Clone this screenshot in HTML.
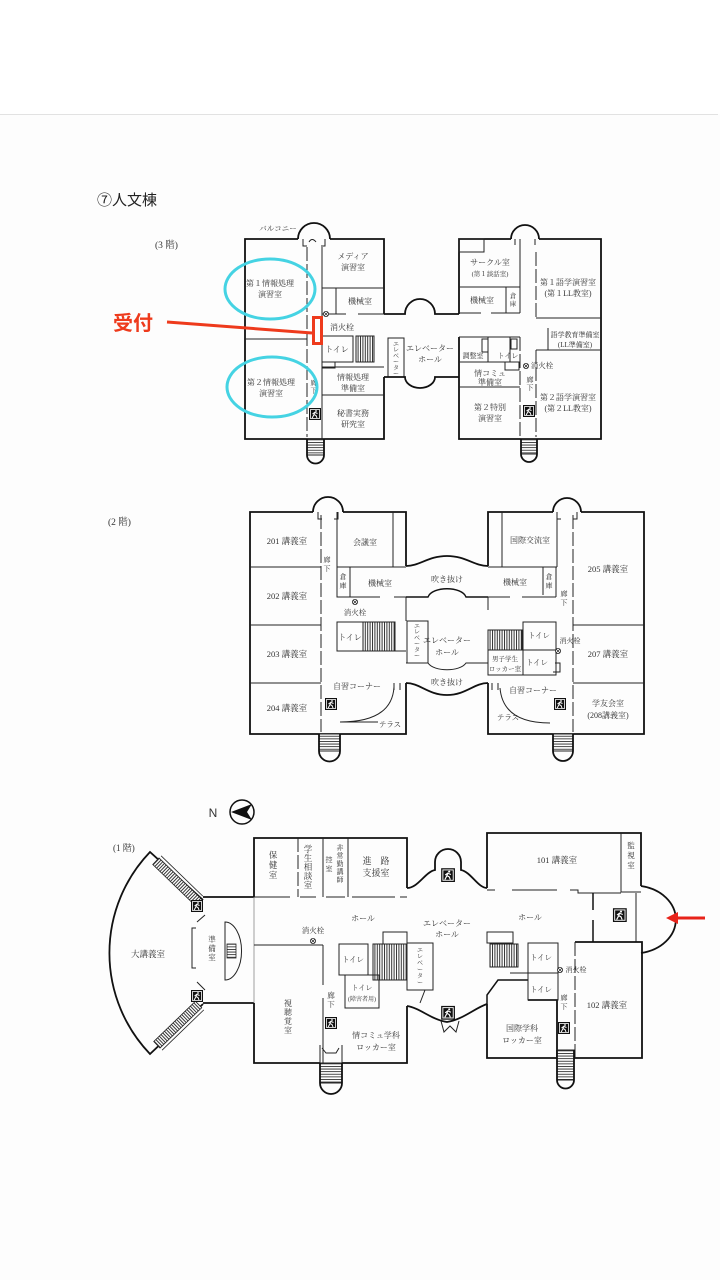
<!DOCTYPE html>
<html><head><meta charset="utf-8">
<style>
html,body{margin:0;padding:0;background:#fff;}
svg{display:block}
.w{fill:none;stroke:#111;stroke-width:1.8}
.t{fill:none;stroke:#222;stroke-width:1}
.d{fill:none;stroke:#222;stroke-width:1;stroke-dasharray:14 3}
text{font-family:"Liberation Serif","Noto Serif CJK JP","Noto Serif CJK SC",serif;fill:#333;font-size:8px;text-anchor:middle}
.s{font-family:"Liberation Sans","Noto Sans CJK JP",sans-serif}
</style></head><body>
<svg width="720" height="1280" viewBox="0 0 720 1280" xmlns="http://www.w3.org/2000/svg">
<defs>
<pattern id="vs" width="2.4" height="4" patternUnits="userSpaceOnUse"><rect width="2.4" height="4" fill="#fff"/><rect width="1" height="4" fill="#333"/></pattern>
<pattern id="hs" width="4" height="2.6" patternUnits="userSpaceOnUse"><rect width="4" height="2.6" fill="#fff"/><rect width="4" height="0.9" fill="#333"/></pattern>
<g id="ex"><rect width="12" height="12" fill="#111"/><rect x="1.5" y="1.5" width="9" height="9" fill="none" stroke="#fff" stroke-width="0.8"/><path d="M3.2,10 L5,6.5 L7,7.5 L8,10 M5,6.5 L6,3.8 M6,4.5 L8.5,5.5 M5.5,4.5 L3.5,6" stroke="#fff" stroke-width="1" fill="none"/><circle cx="7" cy="3" r="0.9" fill="#fff"/></g>
<g id="fh"><circle r="2.6" fill="#fff" stroke="#222" stroke-width="0.8"/><path d="M-1.8,-1.8 L1.8,1.8 M-1.8,1.8 L1.8,-1.8" stroke="#222" stroke-width="0.7"/></g>
</defs>
<rect x="0" y="0" width="720" height="1280" fill="#fdfdfd"/>
<rect x="0" y="0" width="720" height="114" fill="#fff"/>
<line x1="0" y1="114.5" x2="718" y2="114.5" stroke="#e2e2e2" stroke-width="1"/>

<text class="s" x="97" y="205" style="font-size:15px;text-anchor:start;fill:#222">⑦人文棟</text>

<!-- ================= 3F ================= -->
<text x="155" y="248" style="font-size:9.5px;text-anchor:start">(3 階)</text>
<text x="278" y="231" style="font-size:7.5px">バルコニー</text>
<path class="w" d="M298,239 H245 V439 H384 V377 M384,314 V239 H330"/>
<path class="w" d="M298,239 A16,16 0 0 1 330,239"/>
<path class="t" d="M303,239 V246 H307 M325,239 V246 H321 M309,242 Q312,237 316,242"/>
<line class="d" x1="307" y1="247" x2="307" y2="437"/>
<path class="t" d="M322,247 V336 M322,367 V439 M245,339 H307 M322,288 H384 M336,288 V314 M322,314 H346 M358,314 H384 M322,367 H384 M322,395 H384"/>
<rect class="t" x="322" y="336" width="31" height="26"/>
<rect x="356" y="336" width="18" height="26" fill="url(#vs)" stroke="#222" stroke-width="1"/>
<rect class="t" x="322" y="362" width="13" height="6"/>
<rect class="t" x="388" y="338" width="16" height="39"/>
<use href="#ex" x="309" y="408"/>
<rect x="307" y="439" width="17" height="16" fill="url(#hs)" stroke="#222" stroke-width="1"/>
<path class="w" d="M307,439 V455 A8.5,8.5 0 0 0 324,455 V439"/>
<use href="#fh" x="326" y="314"/>
<!-- connector -->
<path class="w" d="M384,314 H405 A15,15 0 0 1 435,314 H459"/>
<path class="w" d="M384,377 H405 A15,11 0 0 0 435,377 H459"/>
<!-- right wing -->
<path class="w" d="M459,314 V239 H511 M539,239 H601 V439 H459 V337"/>
<path class="w" d="M511,239 A14,14 0 0 1 539,239"/>
<path class="t" d="M515,239 V245 M535,239 V245"/>
<rect class="t" x="459" y="239" width="25" height="13"/>
<path class="t" d="M520,239 V313 M459,287 H520 M459,313 H481 M491,313 H520 M506,287 V313 M536,318 H601 M548,328 V350 M536,350 H601 M459,337 H520 M459,362 H505 M459,387 H520 M488,337 V362 M510,337 V362"/>
<line class="d" x1="536" y1="252" x2="536" y2="318"/>
<line class="d" x1="536" y1="350" x2="536" y2="437"/>
<line class="d" x1="520" y1="337" x2="520" y2="437"/>
<rect class="t" x="482" y="339" width="6" height="13"/>
<rect class="t" x="511" y="339" width="6" height="10"/>
<rect class="t" x="505" y="362" width="14" height="8"/>
<use href="#ex" x="523" y="405"/>
<rect x="521" y="439" width="16" height="15" fill="url(#hs)" stroke="#222" stroke-width="1"/>
<path class="w" d="M521,439 V454 A8,8 0 0 0 537,454 V439"/>
<use href="#fh" x="526" y="366"/>
<!-- labels 3F -->
<text x="270" y="286">第１情報処理</text><text x="270" y="297">演習室</text>
<text x="271" y="385">第２情報処理</text><text x="271" y="396">演習室</text>
<text x="353" y="259">メディア</text><text x="353" y="270">演習室</text>
<text x="360" y="304">機械室</text>
<text x="342" y="330">消火栓</text>
<text x="337" y="352">トイレ</text>
<text x="353" y="380">情報処理</text><text x="353" y="391">準備室</text>
<text x="353" y="416">秘書実務</text><text x="353" y="427">研究室</text>
<text x="314" y="385" style="font-size:7px">廊<tspan x="314" dy="8">下</tspan></text>
<text x="396" y="346" style="font-size:6px">エ<tspan x="396" dy="6">レ</tspan><tspan x="396" dy="6">ベ</tspan><tspan x="396" dy="6">ー</tspan><tspan x="396" dy="6">タ</tspan><tspan x="396" dy="6">ー</tspan></text>
<text x="430" y="351">エレベーター</text><text x="430" y="362">ホール</text>
<text x="490" y="265">サークル室</text><text x="490" y="276" style="font-size:6.5px">(第１談話室)</text>
<text x="482" y="303">機械室</text>
<text x="513" y="298" style="font-size:6.5px">倉<tspan x="513" dy="8">庫</tspan></text>
<text x="568" y="285">第１語学演習室</text><text x="568" y="296">(第１LL教室)</text>
<text x="575" y="337" style="font-size:7px">語学教育準備室</text><text x="575" y="347" style="font-size:7px">(LL準備室)</text>
<text x="473" y="358" style="font-size:7px">調整室</text><text x="508" y="358" style="font-size:7px">トイレ</text>
<text x="490" y="376">情コミュ</text><text x="490" y="385">準備室</text>
<text x="490" y="410">第２特別</text><text x="490" y="421">演習室</text>
<text x="542" y="368" style="font-size:7.5px">消火栓</text>
<text x="530" y="382" style="font-size:7px">廊<tspan x="530" dy="8">下</tspan></text>
<text x="568" y="400">第２語学演習室</text><text x="568" y="411">(第２LL教室)</text>
<!-- highlights -->
<ellipse cx="270" cy="289" rx="45" ry="30" fill="none" stroke="#45d3e3" stroke-width="3"/>
<ellipse cx="272" cy="387" rx="45" ry="30" fill="none" stroke="#45d3e3" stroke-width="3"/>
<text class="s" x="113" y="330" style="font-size:20px;font-weight:bold;fill:#ee3a1c;text-anchor:start">受付</text>
<line x1="167" y1="322" x2="312" y2="333" stroke="#ee3a1c" stroke-width="3"/>
<rect x="313.5" y="317.5" width="8" height="26" fill="none" stroke="#ee3a1c" stroke-width="3"/>

<!-- ================= 2F ================= -->
<text x="108" y="525" style="font-size:9.5px;text-anchor:start">(2 階)</text>
<path class="w" d="M313,512 H250 V734 H406 V683 M406,566 V512 H343"/>
<path class="t" d="M406,597 V621"/>
<path class="w" d="M313,512 A15,15 0 0 1 343,512"/>
<path class="t" d="M318,512 V519 H322 M338,512 V519 H334"/>
<line class="d" x1="321" y1="515" x2="321" y2="732"/>
<path class="t" d="M250,567 H321 M250,625 H321 M250,683 H321 M337,512 V567 M393,512 V567 M337,567 H406 M350,567 V597 M337,597 H380 M394,597 H406 M337,651 H406 M340,722 H378"/>
<rect class="t" x="337" y="567" width="13" height="30"/>
<use href="#fh" x="355" y="602"/>
<rect class="t" x="337" y="622" width="26" height="29"/>
<rect x="363" y="622" width="32" height="29" fill="url(#vs)" stroke="#222" stroke-width="1"/>
<rect class="t" x="407" y="621" width="21" height="42"/>
<path class="w" d="M406,566 C420,566 428,556 447,556 C466,556 474,566 488,566"/>
<path style="fill:none;stroke:#111;stroke-width:1.4" d="M406,597 H428 C432,586 462,586 466,597 H488"/>
<path class="t" d="M406,663 H428 C434,672 460,672 466,663 H488"/>
<path class="w" d="M406,683 C420,683 428,695 447,695 C466,695 474,683 488,683"/>
<path class="t" d="M394,687 Q392,722 340,722 M394,683 V690 M400,683 V690"/>
<use href="#ex" x="325" y="698"/>
<rect x="319" y="734" width="21" height="17" fill="url(#hs)" stroke="#222" stroke-width="1"/>
<path class="w" d="M319,734 V751 A10.5,10.5 0 0 0 340,751 V734"/>
<!-- right wing 2F -->
<path class="w" d="M553,512 H488 V566 M488,683 V734 H644 V512 H581"/>
<path class="t" d="M488,597 V610"/>
<path class="w" d="M553,512 A14,14 0 0 1 581,512"/>
<path class="t" d="M557,512 V519 H561 M577,512 V519 H573"/>
<path class="t" d="M502,512 V567 M557,512 V567 M488,567 H557 M543,567 V595 M556,567 V597 M488,597 H510 M522,597 H556 M573,625 H644 M573,683 H644 M555,663 H560 V672 H553"/>
<line class="d" x1="573" y1="515" x2="573" y2="732"/>
<rect x="488" y="630" width="34" height="20" fill="url(#vs)" stroke="#222" stroke-width="1"/>
<rect class="t" x="488" y="650" width="35" height="25"/>
<rect class="t" x="523" y="622" width="33" height="28"/>
<rect class="t" x="523" y="650" width="33" height="25"/>
<path class="t" d="M500,688 Q503,723 550,723 M492,683 V690 M498,683 V690"/>
<use href="#fh" x="558" y="651"/>
<use href="#ex" x="554" y="698"/>
<rect x="553" y="734" width="20" height="17" fill="url(#hs)" stroke="#222" stroke-width="1"/>
<path class="w" d="M553,734 V751 A10,10 0 0 0 573,751 V734"/>
<!-- labels 2F -->
<text x="287" y="544" style="font-size:8.5px">201 講義室</text>
<text x="287" y="599" style="font-size:8.5px">202 講義室</text>
<text x="287" y="657" style="font-size:8.5px">203 講義室</text>
<text x="287" y="711" style="font-size:8.5px">204 講義室</text>
<text x="365" y="545">会議室</text>
<text x="380" y="586">機械室</text>
<text x="343" y="579" style="font-size:7px">倉<tspan x="343" dy="9">庫</tspan></text>
<text x="327" y="562" style="font-size:7px">廊<tspan x="327" dy="9">下</tspan></text>
<text x="355" y="615" style="font-size:7.5px">消火栓</text>
<text x="350" y="640">トイレ</text>
<text x="417" y="628" style="font-size:6px">エ<tspan x="417" dy="6">レ</tspan><tspan x="417" dy="6">ベ</tspan><tspan x="417" dy="6">ー</tspan><tspan x="417" dy="6">タ</tspan><tspan x="417" dy="6">ー</tspan></text>
<text x="447" y="643">エレベーター</text><text x="447" y="655">ホール</text>
<text x="447" y="582">吹き抜け</text>
<text x="447" y="685">吹き抜け</text>
<text x="357" y="689">自習コーナー</text>
<text x="390" y="727" style="font-size:7.5px">テラス</text>
<text x="530" y="543">国際交流室</text>
<text x="515" y="585">機械室</text>
<text x="549" y="579" style="font-size:7px">倉<tspan x="549" dy="9">庫</tspan></text>
<text x="564" y="596" style="font-size:7px">廊<tspan x="564" dy="9">下</tspan></text>
<text x="608" y="572" style="font-size:8.5px">205 講義室</text>
<text x="608" y="657" style="font-size:8.5px">207 講義室</text>
<text x="608" y="706">学友会室</text><text x="608" y="718">(208講義室)</text>
<text x="505" y="661" style="font-size:6.5px">男子学生</text><text x="505" y="671" style="font-size:6.5px">ロッカー室</text>
<text x="539" y="638" style="font-size:7.5px">トイレ</text><text x="537" y="665" style="font-size:7.5px">トイレ</text>
<text x="570" y="643" style="font-size:7px">消火栓</text>
<text x="533" y="693">自習コーナー</text>
<text x="508" y="720" style="font-size:7.5px">テラス</text>

<!-- ================= 1F ================= -->
<text class="s" x="213" y="817" style="font-size:12px">N</text>
<circle cx="242" cy="812" r="12" fill="none" stroke="#111" stroke-width="1.5"/>
<path d="M231,812 L252,804 L247,812 L252,820 Z" fill="#111"/>
<text x="113" y="851" style="font-size:9px;text-anchor:start">(1 階)</text>
<!-- auditorium -->
<path class="w" d="M203,900 L150,852 A146,146 0 0 0 150,1054 L203,1004"/>
<path class="w" d="M203,897 H254 M203,1003 H254"/>
<g transform="translate(159,858) rotate(44)"><rect x="0" y="0" width="58" height="9" fill="url(#vs)" stroke="#222" stroke-width="0.8"/><line x1="0" y1="-3" x2="58" y2="-3" stroke="#222" stroke-width="0.8"/></g>
<g transform="translate(160,1048) rotate(-44)"><rect x="0" y="-9" width="58" height="9" fill="url(#vs)" stroke="#222" stroke-width="0.8"/><line x1="0" y1="3" x2="58" y2="3" stroke="#222" stroke-width="0.8"/></g>
<use href="#ex" x="191" y="900"/>
<use href="#ex" x="191" y="990"/>
<path class="t" d="M196,928 H192 V968 H196 M197,922 L205,915 M197,982 L205,990"/>
<path class="t" d="M225,922 A16,28 0 0 1 225,980 Z"/>
<rect x="227" y="944" width="9" height="14" fill="url(#hs)" stroke="#222" stroke-width="0.8"/>
<!-- main left block -->
<path class="w" d="M254,897 V838 H407 V888"/>
<path class="w" d="M254,1003 V1063 H320 M342,1063 H407 V1006"/>
<line x1="254" y1="897" x2="254" y2="1003" stroke="#888" stroke-width="0.8"/>
<path class="t" d="M254,897 H290 M300,897 H316 M326,897 H345 M352,897 H395 M400,897 H407 M323,838 V897 M348,838 V897 M254,945 H323 M323,945 V985 M323,998 V1063"/>
<line class="d" x1="298" y1="838" x2="298" y2="897"/>
<use href="#fh" x="313" y="941"/>
<rect class="t" x="339" y="944" width="29" height="31"/>
<rect x="373" y="944" width="34" height="36" fill="url(#vs)" stroke="#222" stroke-width="1"/>
<rect class="t" x="383" y="932" width="24" height="12"/>
<rect class="t" x="407" y="943" width="26" height="47"/>
<rect class="t" x="345" y="975" width="34" height="33"/>
<path class="t" d="M425,990 L420,1003"/>
<use href="#ex" x="325" y="1017"/>
<path class="t" d="M320,1045 V1063 M342,1045 V1063 M322,1048 L326,1053 H336 L339,1048"/>
<rect x="320" y="1063" width="22" height="20" fill="url(#hs)" stroke="#222" stroke-width="1"/>
<path class="w" d="M320,1063 V1083 A11,11 0 0 0 342,1083 V1063"/>
<!-- exits / connectors -->
<path class="w" d="M407,888 C418,888 425,872 435,870 V862 A13,13 0 0 1 461,862 V870 C471,872 478,888 487,888"/>
<use href="#ex" x="441" y="868" transform="translate(-66,-130) scale(1.15)"/>
<path class="w" d="M407,1006 C420,1008 432,1020 447,1022 C462,1020 475,1008 487,1004"/>
<use href="#ex" x="441" y="1006" transform="translate(-66,-151) scale(1.15)"/>
<path class="t" d="M441,1021 L444,1032 L450,1026 L456,1032 L459,1021"/>
<!-- right block -->
<path class="w" d="M487,888 V833 H641 V886"/>
<path class="t" d="M621,833 V892 H641 M487,890 H495 M512,890 H557 M570,890 H578 V893 H621 M636,893 V942"/>
<path style="fill:none;stroke:#111;stroke-width:1.5" d="M593,893 V910 M593,920 V942"/>
<path class="w" d="M641,886 A42,34 0 0 1 641,953"/>
<use href="#ex" x="613" y="908" transform="translate(-92,-136) scale(1.15)"/>
<path class="w" d="M575,942 H642 V1058 H574"/>
<line class="d" x1="575" y1="942" x2="575" y2="1058"/>
<path style="fill:none;stroke:#111;stroke-width:1.5" d="M487,1004 V995 L498,980 H528"/>
<path class="w" d="M528,1000 H557 V1058 M487,1004 V1058 H557"/>
<rect class="t" x="528" y="943" width="30" height="57"/>
<path class="t" d="M510,973 H558"/>
<use href="#fh" x="560" y="970"/>
<rect class="t" x="487" y="932" width="26" height="11"/>
<rect x="490" y="944" width="28" height="23" fill="url(#vs)" stroke="#222" stroke-width="1"/>
<use href="#ex" x="558" y="1022"/>
<rect x="557" y="1050" width="17" height="30" fill="url(#hs)" stroke="#222" stroke-width="1"/>
<path class="w" d="M557,1050 V1080 A8.5,8.5 0 0 0 574,1080 V1050"/>
<line x1="705" y1="918" x2="676" y2="918" stroke="#e8231a" stroke-width="3"/>
<polygon points="666,918 678,912 678,924" fill="#e8231a"/>
<!-- labels 1F -->
<text x="148" y="957" style="font-size:8.5px">大講義室</text>
<text x="212" y="942" style="font-size:7.5px">準<tspan x="212" dy="9">備</tspan><tspan x="212" dy="9">室</tspan></text>
<text x="273" y="858" style="font-size:8.5px">保<tspan x="273" dy="10">健</tspan><tspan x="273" dy="10">室</tspan></text>
<text x="308" y="852" style="font-size:8.5px">学<tspan x="308" dy="9">生</tspan><tspan x="308" dy="9">相</tspan><tspan x="308" dy="9">談</tspan><tspan x="308" dy="9">室</tspan></text>
<text x="340" y="850" style="font-size:7px">非<tspan x="340" dy="8">常</tspan><tspan x="340" dy="8">勤</tspan><tspan x="340" dy="8">講</tspan><tspan x="340" dy="8">師</tspan></text>
<text x="329" y="862" style="font-size:7px">控<tspan x="329" dy="9">室</tspan></text>
<text x="376" y="864" style="font-size:9px">進　路</text><text x="376" y="876" style="font-size:9px">支援室</text>
<text x="363" y="921">ホール</text>
<text x="313" y="933" style="font-size:7.5px">消火栓</text>
<text x="447" y="926">エレベーター</text><text x="447" y="937">ホール</text>
<text x="530" y="920">ホール</text>
<text x="353" y="962" style="font-size:7.5px">トイレ</text>
<text x="362" y="990" style="font-size:7px">トイレ</text><text x="362" y="1001" style="font-size:6px">(障害者用)</text>
<text x="420" y="952" style="font-size:6px">エ<tspan x="420" dy="6.5">レ</tspan><tspan x="420" dy="6.5">ベ</tspan><tspan x="420" dy="6.5">ー</tspan><tspan x="420" dy="6.5">タ</tspan><tspan x="420" dy="6.5">ー</tspan></text>
<text x="288" y="1006" style="font-size:8px">視<tspan x="288" dy="9">聴</tspan><tspan x="288" dy="9">覚</tspan><tspan x="288" dy="9">室</tspan></text>
<text x="331" y="998" style="font-size:7.5px">廊<tspan x="331" dy="9">下</tspan></text>
<text x="376" y="1038">情コミュ学科</text><text x="376" y="1050">ロッカー室</text>
<text x="557" y="863" style="font-size:8.5px">101 講義室</text>
<text x="631" y="848" style="font-size:7.5px">監<tspan x="631" dy="10">視</tspan><tspan x="631" dy="10">室</tspan></text>
<text x="541" y="960" style="font-size:7.5px">トイレ</text><text x="541" y="992" style="font-size:7.5px">トイレ</text>
<text x="576" y="972" style="font-size:7px">消火栓</text>
<text x="564" y="1000" style="font-size:7px">廊<tspan x="564" dy="9">下</tspan></text>
<text x="522" y="1031">国際学科</text><text x="522" y="1043">ロッカー室</text>
<text x="607" y="1008" style="font-size:8.5px">102 講義室</text>
</svg>
</body></html>
